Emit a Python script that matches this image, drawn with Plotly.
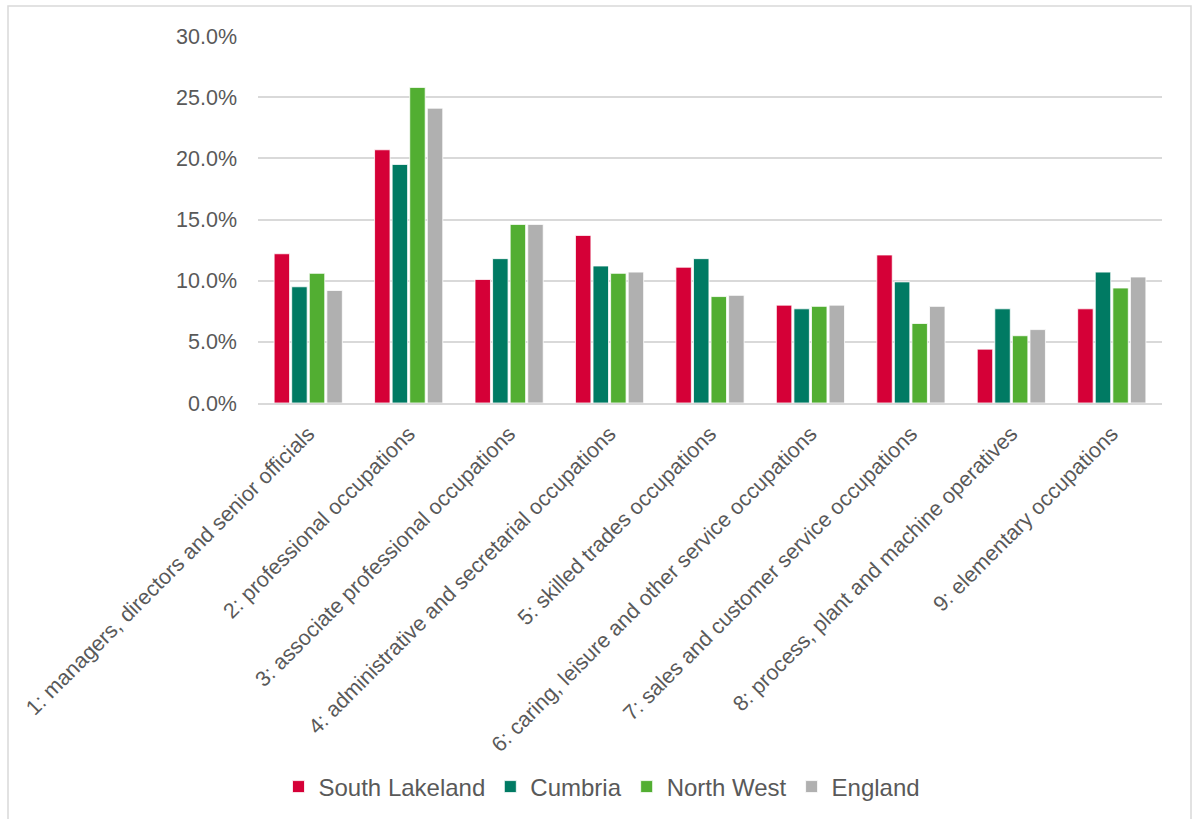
import plotly.graph_objects as go

categories = [
    "1: managers, directors and senior officials",
    "2: professional occupations",
    "3: associate professional occupations",
    "4: administrative and secretarial occupations",
    "5: skilled trades occupations",
    "6: caring, leisure and other service occupations",
    "7: sales and customer service occupations",
    "8: process, plant and machine operatives",
    "9: elementary occupations",
]

south_lakeland = [12.2, 20.7, 10.1, 13.7, 11.1, 8.0, 12.1, 4.4, 7.7]
cumbria = [9.5, 19.5, 11.8, 11.2, 11.8, 7.7, 9.9, 7.7, 10.7]
north_west = [10.6, 25.8, 14.6, 10.6, 8.7, 7.9, 6.5, 5.5, 9.4]
england = [9.2, 24.1, 14.6, 10.7, 8.8, 8.0, 7.9, 6.0, 10.3]

series = [
    ("South Lakeland", south_lakeland, "#D50037"),
    ("Cumbria", cumbria, "#007A63"),
    ("North West", north_west, "#52AE32"),
    ("England", england, "#B0B0B0"),
]

fig = go.Figure()
for name, vals, col in series:
    fig.add_trace(go.Bar(
        x=categories, y=vals, name=name,
        marker=dict(color=col, line=dict(color="white", width=0.8)),
    ))

font_family = "Liberation Sans, Arial, sans-serif"
L, R, T, B = 258, 30, 36, 415
W, H = 1192, 819
pw, ph = W - L - R, H - T - B

def px_x(p):
    return (p - L) / pw

def px_y(p):
    return (H - B - p) / ph

fig.update_layout(
    width=W, height=H,
    margin=dict(l=L, r=R, t=T, b=B),
    paper_bgcolor="white", plot_bgcolor="white",
    barmode="group", bargap=0.3, bargroupgap=0.12,
    font=dict(family=font_family, color="#595959", size=21),
    xaxis=dict(
        tickangle=-45, tickfont=dict(size=21.5, color="#595959"),
        showline=True, linecolor="#d9d9d9", linewidth=1.5,
        ticks="", showgrid=False, ticklabelstandoff=8,
    ),
    yaxis=dict(
        range=[0, 30], dtick=5, tickformat=".1f", ticksuffix="%",
        showgrid=True, gridcolor="#d9d9d9", gridwidth=1.5,
        zeroline=False, ticks="", tickfont=dict(size=21.5, color="#595959"),
        ticklabelstandoff=20,
    ),
    legend=dict(
        orientation="h", x=px_x(602), xanchor="center",
        y=px_y(787), yanchor="middle",
        font=dict(size=24, color="#595959"),
        itemwidth=30, traceorder="normal",
    ),
    shapes=[dict(
        type="rect", xref="paper", yref="paper",
        x0=px_x(8), x1=px_x(1191), y0=px_y(830), y1=px_y(6),
        line=dict(color="#d9d9d9", width=1.5), fillcolor="rgba(0,0,0,0)",
        layer="below",
    )],
)

fig.write_html("out.html")
